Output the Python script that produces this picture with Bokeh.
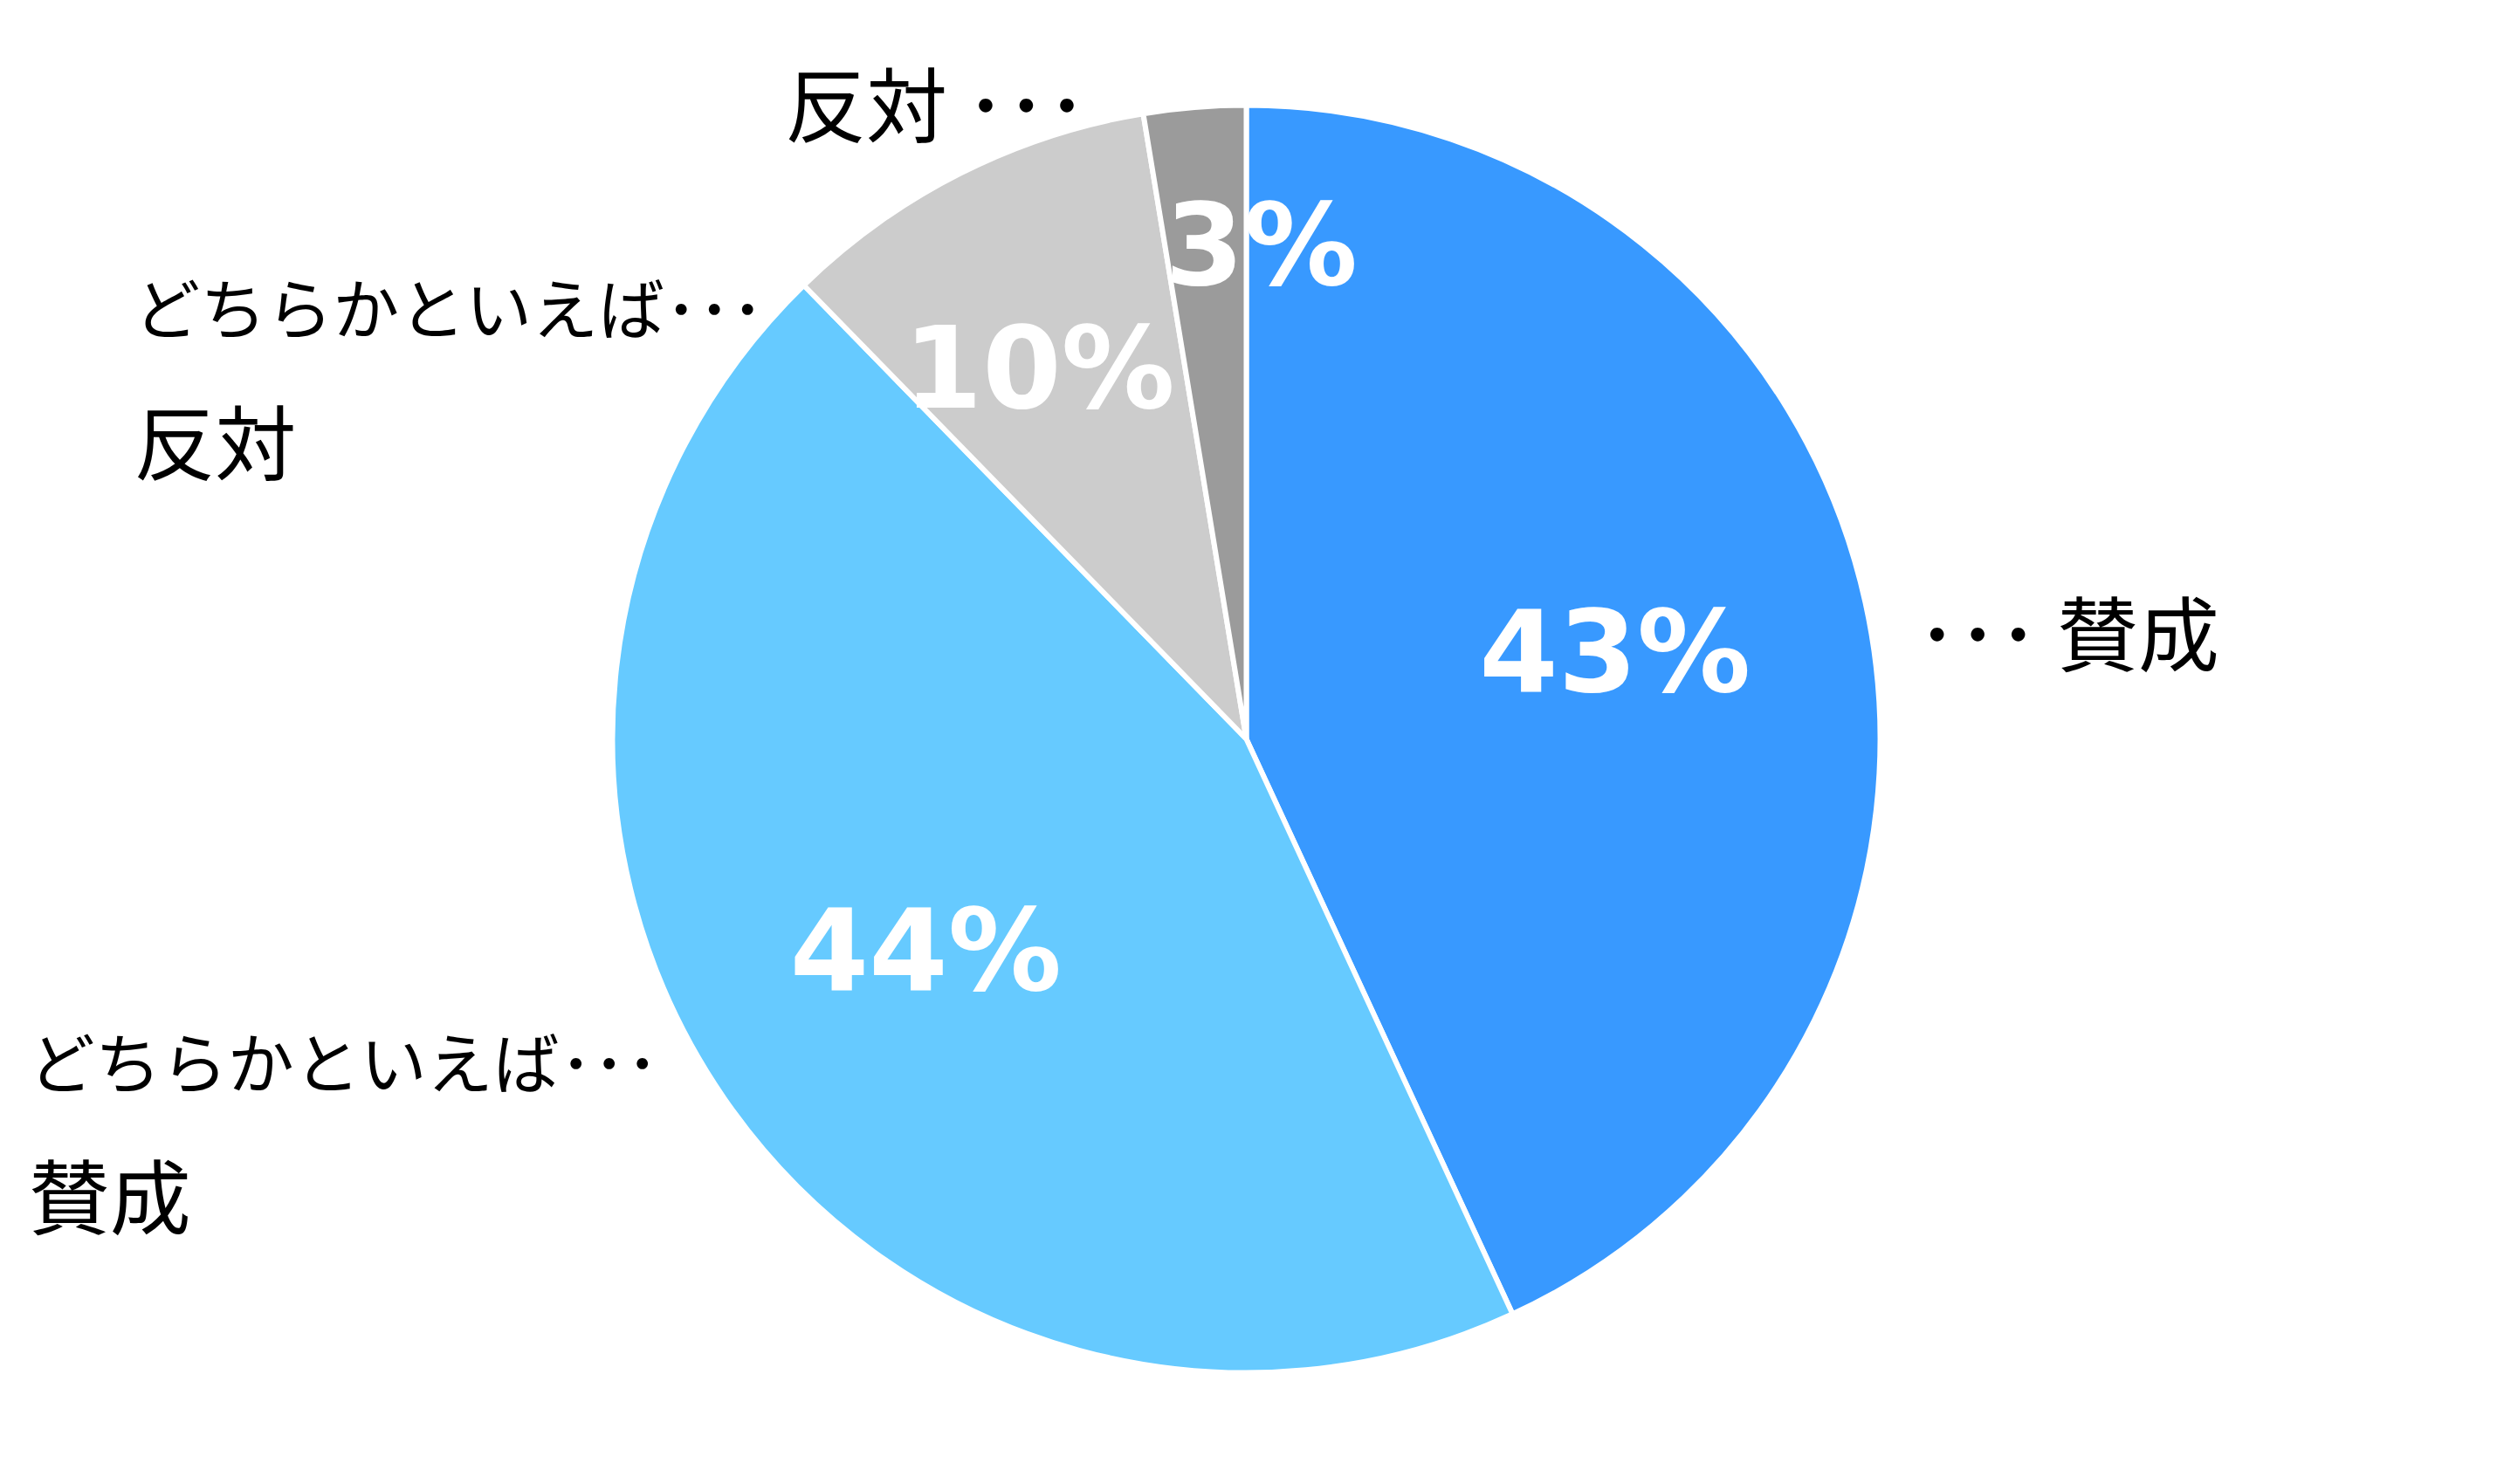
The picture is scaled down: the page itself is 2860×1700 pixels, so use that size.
import numpy as np
from bokeh.plotting import figure
from bokeh.models import Range1d, ColumnDataSource
from bokeh.core.properties import value
from bokeh.embed import file_html
from bokeh.resources import INLINE

# ---------------- data ----------------
categories = ["賛成", "どちらかといえば賛成", "どちらかといえば反対", "反対"]
shares = [43.1, 44.6, 9.7, 2.6]
pct_labels = ["43%", "44%", "10%", "3%"]
outer_labels = ["･･･ 賛成", "どちらかといえば･･･\n賛成", "どちらかといえば･･･\n反対", "反対 ･･･"]

# ---------------- style / layout ----------------
colors = ["#3899FF", "#66CAFF", "#CCCCCC", "#9B9B9B"]
W, H = 2844, 1684            # figure size (px)
MARGIN = 8
CX, CY = 1435, 854           # pie centre in page pixels
R = 726                      # pie radius in px
PCT_RADIUS = [0.60, 0.60, 0.68, 0.79]     # label distance (fraction of R)
PCT_NUDGE = [-1.8, 2.0, -1.9, 6.4]        # label angle nudge (deg, clockwise)
PCT_YOFF = 8                               # px, downward
OUTER_ANCHOR = [(1.058, -0.172), (-1.921, 0.611), (-1.755, -0.579), (-0.728, -1.007)]
LINE_GAP = 152
JP_FONT = "Noto Sans CJK JP"
PCT_FONT = "DejaVu Sans"

p = figure(width=W, height=H,
           x_range=Range1d(MARGIN, MARGIN + W),
           y_range=Range1d(-(MARGIN + H), -MARGIN),
           x_axis_type=None, y_axis_type=None,
           output_backend="svg", toolbar_location=None, min_border=0)
p.grid.visible = False
p.outline_line_color = None
p.background_fill_color = "white"
p.border_fill_color = "white"

vals = np.array(shares, dtype=float)
frac = vals / vals.sum()
cum_end = np.cumsum(frac)
cum_start = cum_end - frac
# Bokeh angles: counter-clockwise from +x. Start at 12 o'clock, go clockwise.
start_angle = np.pi / 2 - 2 * np.pi * cum_start
end_angle = np.pi / 2 - 2 * np.pi * cum_end

src = ColumnDataSource(dict(
    x=[CX] * len(vals), y=[-CY] * len(vals),
    start=start_angle, end=end_angle, color=colors, cat=categories,
))
p.wedge(x="x", y="y", radius=R, start_angle="start", end_angle="end",
        direction="clock", fill_color="color", line_color="white",
        line_width=6, source=src)

# percentage labels inside slices
mid_deg = 360 * (cum_start + cum_end) / 2 + np.array(PCT_NUDGE)
rad = np.radians(mid_deg)
lr = np.array(PCT_RADIUS) * R
lx = CX + lr * np.sin(rad)
ly = -(CY - lr * np.cos(rad))
p.text(x=lx, y=ly, text=pct_labels, text_color="white", y_offset=PCT_YOFF,
       text_font=value(PCT_FONT), text_font_style="bold", text_font_size="130px",
       text_align="center", text_baseline="middle")

# outer category labels
xs, ys, ts, sizes = [], [], [], []
for lab, (ax, ay) in zip(outer_labels, OUTER_ANCHOR):
    lines = lab.split("\n")
    x0 = CX + ax * R
    yc = CY + ay * R
    n = len(lines)
    for i, ln in enumerate(lines):
        yy = yc + (i - (n - 1) / 2) * LINE_GAP
        xs.append(x0)
        ys.append(-yy)
        ts.append(ln)
        # long kana lines are drawn a bit smaller to keep the reference width
        sizes.append("76px" if len(ln) > 6 else "93px")

p.text(x=xs, y=ys, text=ts, text_color="black",
       text_font=value(JP_FONT), text_font_size=sizes,
       text_align="left", text_baseline="middle")

open("out.html", "w").write(file_html(p, INLINE))
